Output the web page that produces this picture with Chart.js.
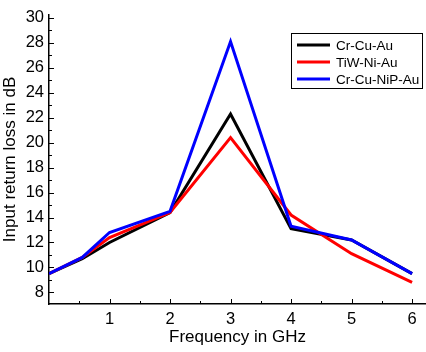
<!DOCTYPE html>
<html>
<head>
<meta charset="utf-8">
<script src="https://cdn.jsdelivr.net/npm/chart.js@4/dist/chart.umd.min.js"></script>
<style>
  html, body { margin: 0; padding: 0; background: #fff; }
  #wrap { width: 426px; height: 352px; }
</style>
</head>
<body>
<div id="wrap"><canvas id="c"></canvas></div>
<script>
const freqGHz = [0, 0.55, 1, 2, 3, 4, 5, 6];
const crCuAu = [9.5, 10.7, 12.0, 14.4, 22.3, 13.1, 12.2, 9.5];
const tiwNiAu = [9.5, 10.8, 12.4, 14.4, 20.4, 14.2, 11.1, 8.8];
const crCuNiPAu = [9.5, 10.8, 12.8, 14.5, 28.1, 13.3, 12.2, 9.5];
const xTicks = [1, 2, 3, 4, 5, 6];
const yTicks = [8, 10, 12, 14, 16, 18, 20, 22, 24, 26, 28, 30];

const FONT = '"Liberation Sans", Arial, sans-serif';

function series(label, values, color, order) {
  return {
    label,
    data: values.map((v, i) => ({ x: freqGHz[i], y: v })),
    borderColor: color,
    backgroundColor: color,
    borderWidth: 3,
    pointRadius: 0,
    tension: 0,
    fill: false,
    order,
  };
}

// inward major/minor tick marks, like the original plot
const innerTicks = {
  id: 'innerTicks',
  afterDraw(chart) {
    const { ctx, chartArea: a, scales: { x, y } } = chart;
    ctx.save();
    ctx.strokeStyle = '#000';
    ctx.lineWidth = 1;
    ctx.beginPath();
    for (let v = 0.5; v <= 6.2; v += 0.5) {
      const px = Math.round(x.getPixelForValue(v)) + 0.5;
      const len = Number.isInteger(v) ? 5 : 3;
      ctx.moveTo(px, a.bottom);
      ctx.lineTo(px, a.bottom - len);
    }
    for (let v = 8; v <= 30; v += 1) {
      const py = Math.round(y.getPixelForValue(v)) + 0.5;
      const len = v % 2 === 0 ? 5 : 3;
      ctx.moveTo(a.left, py);
      ctx.lineTo(a.left + len, py);
    }
    ctx.stroke();
    ctx.restore();
  },
};

// boxed legend in the upper right
const boxLegend = {
  id: 'boxLegend',
  afterDraw(chart) {
    const ctx = chart.ctx;
    const box = { x: 291, y: 33, w: 131, h: 55 };
    ctx.save();
    ctx.fillStyle = '#fff';
    ctx.fillRect(box.x, box.y, box.w, box.h);
    ctx.strokeStyle = '#000';
    ctx.lineWidth = 1;
    ctx.strokeRect(box.x + 0.5, box.y + 0.5, box.w, box.h);
    ctx.font = '13.5px ' + FONT;
    ctx.textBaseline = 'middle';
    chart.data.datasets.forEach((ds, i) => {
      const ry = 45 + i * 17;
      ctx.strokeStyle = ds.borderColor;
      ctx.lineWidth = 3;
      ctx.beginPath();
      ctx.moveTo(297, ry);
      ctx.lineTo(330, ry);
      ctx.stroke();
      ctx.fillStyle = '#000';
      ctx.fillText(ds.label, 336, ry + 1);
    });
    ctx.restore();
  },
};

new Chart(document.getElementById('c'), {
  type: 'line',
  data: {
    datasets: [
      series('Cr-Cu-Au', crCuAu, '#000000', 2),
      series('TiW-Ni-Au', tiwNiAu, '#ff0000', 1),
      series('Cr-Cu-NiP-Au', crCuNiPAu, '#0000ff', 0),
    ],
  },
  options: {
    responsive: true,
    maintainAspectRatio: false,
    animation: false,
    layout: { padding: { top: 11, right: 0, left: 0, bottom: 0 } },
    plugins: { legend: { display: false }, tooltip: { enabled: false } },
    scales: {
      x: {
        type: 'linear',
        min: 0,
        max: 6.23,
        afterBuildTicks: s => { s.ticks = xTicks.map(v => ({ value: v })); },
        afterFit: s => { s.height = 48; },
        grid: { display: false, drawTicks: false, tickLength: 0 },
        border: { display: true, color: '#000', width: 1.5 },
        ticks: { color: '#000', padding: 6, font: { family: FONT, size: 16.5 } },
        title: {
          display: true,
          text: 'Frequency in GHz',
          color: '#000',
          padding: { top: 0, bottom: 4 },
          font: { family: FONT, size: 17 },
        },
      },
      y: {
        min: 7.07,
        max: 30.24,
        afterBuildTicks: s => { s.ticks = yTicks.map(v => ({ value: v })); },
        afterFit: s => { s.width = 49; },
        grid: { display: false, drawTicks: false, tickLength: 0 },
        border: { display: true, color: '#000', width: 1.5 },
        ticks: { color: '#000', padding: 5, font: { family: FONT, size: 16.5 } },
        title: {
          display: true,
          text: 'Input return loss in dB',
          color: '#000',
          padding: { top: 0, bottom: 0 },
          font: { family: FONT, size: 17 },
        },
      },
    },
  },
  plugins: [innerTicks, boxLegend],
});
</script>
</body>
</html>
